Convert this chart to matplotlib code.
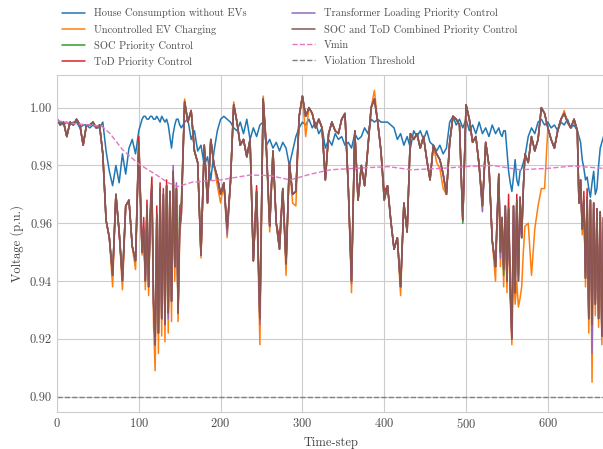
import numpy as np
import matplotlib
matplotlib.use('Agg')
import matplotlib.pyplot as plt
import seaborn as sns

# time axis: every 4 time-steps, every 2 inside the strongly oscillating windows
time_step = (list(range(0, 104, 4)) + list(range(104, 152, 2)) +
             list(range(152, 536, 4)) + list(range(536, 572, 2)) +
             list(range(572, 636, 4)) + list(range(636, 669, 2)))

house = [
    0.996, 0.995, 0.994, 0.995, 0.994, 0.995, 0.995, 0.993, 0.994, 0.994,
    0.993, 0.994, 0.993, 0.993, 0.995, 0.985, 0.978, 0.973, 0.980, 0.974,
    0.984, 0.977, 0.986, 0.989, 0.984, 0.992,
    0.996, 0.997, 0.997, 0.996, 0.996, 0.997, 0.997, 0.996, 0.996, 0.997,
    0.996, 0.995, 0.997, 0.996, 0.995, 0.996, 0.994, 0.990, 0.986, 0.991,
    0.994, 0.996, 0.996, 0.994,
    0.993, 0.995,
    0.996, 0.989, 0.992, 0.985, 0.987, 0.980, 0.983, 0.975, 0.985, 0.992,
    0.996, 0.997, 0.996, 0.995, 0.993, 0.992, 0.995, 0.991, 0.996, 0.989,
    0.993, 0.990, 0.994, 0.995, 0.987, 0.989, 0.986, 0.988, 0.985, 0.988,
    0.986, 0.980, 0.985, 0.990, 0.993, 0.995, 0.994, 0.996, 0.993, 0.995,
    0.991, 0.993, 0.986, 0.989, 0.987, 0.991, 0.989, 0.990, 0.987, 0.988,
    0.986, 0.991, 0.989, 0.990, 0.993, 0.991, 0.996, 0.995, 0.996, 0.995,
    0.995, 0.995, 0.994, 0.993, 0.989, 0.991, 0.987, 0.990, 0.986, 0.992,
    0.990, 0.992, 0.989, 0.992, 0.988, 0.987, 0.985, 0.987, 0.984, 0.986,
    0.995, 0.997, 0.994, 0.996, 0.993, 0.996, 0.992, 0.994, 0.991, 0.995,
    0.991, 0.993, 0.990, 0.994,
    0.991, 0.992, 0.993, 0.991, 0.990, 0.992, 0.992, 0.985, 0.978, 0.974,
    0.971, 0.976, 0.982, 0.975, 0.973, 0.978, 0.979, 0.981,
    0.983, 0.990, 0.993, 0.991, 0.995, 0.996, 0.994, 0.995, 0.993, 0.994,
    0.992, 0.995, 0.994, 0.996, 0.993, 0.994,
    0.992, 0.990, 0.988, 0.982, 0.979, 0.975, 0.976, 0.972, 0.969, 0.974,
    0.978, 0.970, 0.972, 0.980, 0.986, 0.988, 0.990,
]

uncontrolled = [
    0.996, 0.994, 0.995, 0.990, 0.995, 0.994, 0.996, 0.994, 0.987, 0.994,
    0.994, 0.995, 0.993, 0.994, 0.984, 0.961, 0.955, 0.938, 0.970, 0.957,
    0.937, 0.966, 0.968, 0.952, 0.944, 0.988,
    0.949, 0.957, 0.937, 0.966, 0.935, 0.962, 0.973, 0.925, 0.909, 0.963,
    0.915, 0.972, 0.921, 0.970, 0.919, 0.973, 0.922, 0.971, 0.926, 0.978,
    0.940, 0.972, 0.926, 0.955,
    0.963, 1.003,
    0.995, 0.999, 0.985, 0.981, 0.948, 0.987, 0.967, 0.989, 0.980, 0.973,
    0.967, 0.974, 0.955, 0.974, 1.002, 0.995, 0.987, 0.989, 0.983, 0.989,
    0.947, 0.971, 0.918, 1.004, 0.985, 0.957, 0.985, 0.960, 0.951, 0.972,
    0.942, 0.981, 0.967, 0.966, 0.997, 1.004, 0.990, 1.000, 0.998, 0.993,
    0.996, 0.993, 0.975, 0.991, 0.995, 0.992, 0.991, 0.996, 0.998, 0.973,
    0.936, 0.992, 0.968, 0.980, 0.973, 0.986, 1.000, 1.006, 0.995, 0.985,
    0.968, 0.973, 0.961, 0.951, 0.955, 0.935, 0.967, 0.957, 0.991, 0.989,
    0.991, 0.986, 0.990, 0.982, 0.975, 0.987, 0.981, 0.979, 0.972, 0.970,
    0.988, 0.997, 0.996, 0.994, 0.961, 1.001, 0.996, 0.988, 0.990, 0.980,
    0.966, 0.988, 0.980, 0.954,
    0.940, 0.960, 0.975, 0.945, 0.960, 0.938, 0.963, 0.936, 0.962, 0.934,
    0.918, 0.945, 0.932, 0.940, 0.931, 0.934, 0.938, 0.950,
    0.959, 0.960, 0.942, 0.958, 0.966, 0.972, 0.972, 0.993, 0.989, 0.986,
    0.992, 0.996, 0.999, 0.995, 0.993, 0.996,
    0.992, 0.967, 0.975, 0.956, 0.968, 0.938, 0.969, 0.922, 0.968, 0.905,
    0.967, 0.928, 0.965, 0.924, 0.964, 0.918, 0.962,
]

soc_priority = [
    0.996, 0.994, 0.995, 0.990, 0.995, 0.994, 0.996, 0.994, 0.987, 0.994,
    0.994, 0.995, 0.993, 0.994, 0.984, 0.961, 0.955, 0.942, 0.970, 0.957,
    0.942, 0.966, 0.968, 0.952, 0.947, 0.988,
    0.950, 0.958, 0.940, 0.966, 0.938, 0.962, 0.973, 0.933, 0.918, 0.963,
    0.922, 0.972, 0.927, 0.970, 0.925, 0.973, 0.929, 0.971, 0.933, 0.978,
    0.945, 0.972, 0.929, 0.966,
    0.967, 1.002,
    0.995, 0.999, 0.985, 0.981, 0.949, 0.987, 0.967, 0.989, 0.980, 0.976,
    0.970, 0.974, 0.958, 0.974, 1.001, 0.995, 0.987, 0.989, 0.983, 0.989,
    0.947, 0.971, 0.927, 1.003, 0.985, 0.959, 0.985, 0.960, 0.951, 0.972,
    0.946, 0.981, 0.970, 0.971, 0.997, 1.004, 0.997, 1.000, 0.998, 0.993,
    0.996, 0.993, 0.975, 0.991, 0.995, 0.992, 0.991, 0.996, 0.998, 0.973,
    0.940, 0.992, 0.968, 0.980, 0.973, 0.986, 1.000, 1.003, 0.995, 0.985,
    0.968, 0.973, 0.961, 0.951, 0.955, 0.938, 0.967, 0.957, 0.991, 0.989,
    0.991, 0.986, 0.990, 0.982, 0.975, 0.987, 0.984, 0.982, 0.977, 0.970,
    0.988, 0.997, 0.996, 0.994, 0.960, 1.001, 0.996, 0.988, 0.990, 0.980,
    0.966, 0.988, 0.980, 0.954,
    0.945, 0.962, 0.977, 0.950, 0.962, 0.942, 0.966, 0.940, 0.965, 0.938,
    0.922, 0.966, 0.936, 0.968, 0.940, 0.969, 0.955, 0.972,
    0.984, 0.981, 0.990, 0.985, 0.989, 1.000, 0.998, 0.993, 0.989, 0.986,
    0.992, 0.996, 0.998, 0.995, 0.993, 0.996,
    0.992, 0.967, 0.975, 0.958, 0.968, 0.941, 0.969, 0.927, 0.968, 0.925,
    0.967, 0.932, 0.965, 0.927, 0.964, 0.921, 0.962,
]

tod_priority = [
    0.996, 0.994, 0.995, 0.990, 0.995, 0.994, 0.996, 0.994, 0.987, 0.994,
    0.994, 0.995, 0.993, 0.994, 0.984, 0.961, 0.955, 0.942, 0.970, 0.957,
    0.940, 0.966, 0.968, 0.952, 0.947, 0.990,
    0.950, 0.962, 0.940, 0.968, 0.938, 0.965, 0.976, 0.933, 0.918, 0.966,
    0.922, 0.974, 0.927, 0.972, 0.925, 0.975, 0.929, 0.971, 0.933, 0.978,
    0.945, 0.972, 0.929, 0.962,
    0.966, 1.002,
    0.995, 0.999, 0.985, 0.981, 0.949, 0.987, 0.967, 0.989, 0.980, 0.976,
    0.970, 0.974, 0.958, 0.974, 1.001, 0.995, 0.987, 0.989, 0.983, 0.989,
    0.947, 0.973, 0.927, 1.003, 0.987, 0.959, 0.985, 0.960, 0.955, 0.972,
    0.946, 0.981, 0.970, 0.971, 0.997, 1.004, 0.997, 1.000, 0.998, 0.993,
    0.996, 0.993, 0.975, 0.991, 0.995, 0.992, 0.991, 0.996, 0.998, 0.973,
    0.940, 0.992, 0.968, 0.980, 0.973, 0.986, 1.000, 1.003, 0.995, 0.985,
    0.971, 0.973, 0.961, 0.951, 0.955, 0.938, 0.967, 0.957, 0.991, 0.989,
    0.991, 0.986, 0.990, 0.982, 0.975, 0.987, 0.984, 0.982, 0.977, 0.970,
    0.988, 0.997, 0.996, 0.994, 0.961, 1.001, 0.996, 0.988, 0.990, 0.980,
    0.966, 0.988, 0.980, 0.954,
    0.945, 0.962, 0.977, 0.950, 0.962, 0.944, 0.966, 0.940, 0.970, 0.938,
    0.920, 0.966, 0.936, 0.970, 0.942, 0.969, 0.955, 0.972,
    0.984, 0.981, 0.990, 0.985, 0.989, 1.000, 0.998, 0.993, 0.989, 0.986,
    0.992, 0.996, 0.998, 0.995, 0.993, 0.996,
    0.992, 0.967, 0.975, 0.958, 0.971, 0.941, 0.972, 0.927, 0.968, 0.925,
    0.967, 0.932, 0.965, 0.927, 0.964, 0.921, 0.962,
]

trafo_priority = [
    0.996, 0.994, 0.995, 0.990, 0.995, 0.994, 0.996, 0.994, 0.987, 0.994,
    0.994, 0.995, 0.993, 0.994, 0.984, 0.961, 0.955, 0.942, 0.970, 0.957,
    0.940, 0.966, 0.968, 0.952, 0.947, 0.988,
    0.950, 0.958, 0.940, 0.966, 0.938, 0.962, 0.973, 0.931, 0.918, 0.963,
    0.922, 0.972, 0.927, 0.970, 0.925, 0.973, 0.927, 0.971, 0.933, 0.980,
    0.945, 0.974, 0.929, 0.958,
    0.963, 1.002,
    0.995, 0.999, 0.985, 0.981, 0.949, 0.987, 0.967, 0.989, 0.980, 0.976,
    0.970, 0.974, 0.956, 0.974, 1.001, 0.995, 0.987, 0.989, 0.983, 0.989,
    0.947, 0.971, 0.925, 1.003, 0.985, 0.959, 0.985, 0.960, 0.951, 0.972,
    0.946, 0.981, 0.970, 0.971, 0.997, 1.004, 0.997, 1.000, 0.998, 0.993,
    0.996, 0.993, 0.975, 0.991, 0.995, 0.992, 0.991, 0.996, 0.998, 0.973,
    0.939, 0.992, 0.968, 0.980, 0.973, 0.986, 1.000, 1.003, 0.995, 0.985,
    0.968, 0.973, 0.961, 0.951, 0.955, 0.938, 0.967, 0.957, 0.991, 0.989,
    0.991, 0.986, 0.990, 0.982, 0.975, 0.987, 0.984, 0.982, 0.977, 0.970,
    0.988, 0.997, 0.996, 0.994, 0.961, 1.001, 0.996, 0.988, 0.990, 0.980,
    0.964, 0.988, 0.980, 0.954,
    0.945, 0.962, 0.977, 0.948, 0.962, 0.944, 0.966, 0.940, 0.965, 0.936,
    0.920, 0.966, 0.936, 0.968, 0.940, 0.969, 0.955, 0.972,
    0.984, 0.981, 0.990, 0.985, 0.989, 1.000, 0.998, 0.993, 0.989, 0.986,
    0.992, 0.996, 0.998, 0.995, 0.993, 0.996,
    0.992, 0.967, 0.975, 0.958, 0.968, 0.941, 0.969, 0.927, 0.968, 0.915,
    0.967, 0.932, 0.965, 0.927, 0.964, 0.921, 0.962,
]

soc_tod = [
    0.996, 0.994, 0.995, 0.990, 0.995, 0.994, 0.996, 0.994, 0.987, 0.994,
    0.994, 0.995, 0.993, 0.994, 0.984, 0.961, 0.955, 0.942, 0.970, 0.957,
    0.940, 0.966, 0.968, 0.952, 0.947, 0.988,
    0.950, 0.958, 0.940, 0.966, 0.938, 0.962, 0.973, 0.933, 0.918, 0.963,
    0.922, 0.972, 0.927, 0.970, 0.925, 0.973, 0.929, 0.971, 0.933, 0.978,
    0.945, 0.972, 0.929, 0.958,
    0.963, 1.002,
    0.995, 0.999, 0.985, 0.981, 0.949, 0.987, 0.967, 0.989, 0.980, 0.976,
    0.970, 0.974, 0.958, 0.974, 1.001, 0.995, 0.987, 0.989, 0.983, 0.989,
    0.947, 0.971, 0.927, 1.003, 0.985, 0.959, 0.985, 0.960, 0.951, 0.972,
    0.946, 0.981, 0.970, 0.971, 0.997, 1.004, 0.997, 1.000, 0.998, 0.993,
    0.996, 0.993, 0.975, 0.991, 0.995, 0.992, 0.991, 0.996, 0.998, 0.973,
    0.940, 0.992, 0.968, 0.980, 0.973, 0.986, 1.000, 1.003, 0.995, 0.985,
    0.968, 0.973, 0.961, 0.951, 0.955, 0.938, 0.967, 0.957, 0.991, 0.989,
    0.991, 0.986, 0.990, 0.982, 0.975, 0.987, 0.984, 0.982, 0.977, 0.970,
    0.988, 0.997, 0.996, 0.994, 0.961, 1.001, 0.996, 0.988, 0.990, 0.980,
    0.966, 0.988, 0.980, 0.954,
    0.945, 0.962, 0.977, 0.950, 0.962, 0.944, 0.966, 0.940, 0.965, 0.938,
    0.920, 0.966, 0.936, 0.968, 0.940, 0.969, 0.955, 0.972,
    0.984, 0.981, 0.990, 0.985, 0.989, 1.000, 0.998, 0.993, 0.989, 0.986,
    0.992, 0.996, 0.998, 0.995, 0.993, 0.996,
    0.992, 0.967, 0.975, 0.958, 0.968, 0.941, 0.969, 0.927, 0.968, 0.925,
    0.967, 0.932, 0.965, 0.927, 0.964, 0.921, 0.962,
]

# Vmin curve (smooth), read at a coarser set of time-steps
vmin_step = [0, 20, 40, 55, 65, 80, 100, 120, 136, 148, 165, 200, 236, 260,
             285, 310, 334, 364, 405, 433, 470, 499, 533, 566, 600, 630, 668]
vmin = [0.9955, 0.9945, 0.994, 0.9935, 0.991, 0.9855, 0.9805, 0.977, 0.974,
        0.9727, 0.9742, 0.975, 0.9767, 0.9765, 0.975, 0.977, 0.9785, 0.979,
        0.9796, 0.9785, 0.979, 0.9796, 0.980, 0.9785, 0.979, 0.9798, 0.979]

violation_threshold = 0.90

labels = ['House Consumption without EVs', 'Uncontrolled EV Charging',
          'SOC Priority Control', 'ToD Priority Control',
          'Transformer Loading Priority Control',
          'SOC and ToD Combined Priority Control', 'Vmin', 'Violation Threshold']


sns.set_style('whitegrid')
plt.rcParams['font.family'] = 'serif'
plt.rcParams['font.serif'] = ['cmr10']
plt.rcParams['mathtext.fontset'] = 'cm'
plt.rcParams['axes.formatter.use_mathtext'] = True

fig = plt.figure(figsize=(6.03, 4.49), dpi=100)
ax = fig.add_axes([0.0945, 0.0824, 0.9104, 0.7506])

lw = 1.1
lines = []
lines += ax.plot(time_step, house, color='#1f77b4', lw=lw, label=labels[0])
lines += ax.plot(time_step, uncontrolled, color='#ff7f0e', lw=lw, label=labels[1])
lines += ax.plot(time_step, soc_priority, color='#2ca02c', lw=lw, label=labels[2])
lines += ax.plot(time_step, tod_priority, color='#d62728', lw=lw, label=labels[3])
lines += ax.plot(time_step, trafo_priority, color='#9467bd', lw=lw, label=labels[4])
lines += ax.plot(time_step, soc_tod, color='#8c564b', lw=lw, label=labels[5])
lines += ax.plot(vmin_step, vmin, color='#e377c2', lw=1.0, ls='--', label=labels[6])
lines.append(ax.axhline(violation_threshold, color='#7f7f7f', lw=1.0, ls='--',
                        label=labels[7]))

ax.set_xlim(0, 671)
ax.set_ylim(0.8947, 1.0113)
ax.set_yticks([0.90, 0.92, 0.94, 0.96, 0.98, 1.00])
ax.set_yticklabels(['0.90', '0.92', '0.94', '0.96', '0.98', '1.00'])
ax.set_xticks([0, 100, 200, 300, 400, 500, 600])
ax.tick_params(labelsize=9, colors='.3', length=0)
ax.set_xlabel('Time-step', fontsize=9, color='.25')
ax.set_ylabel('Voltage (p.u.)', fontsize=9, color='.25')

# two-column legend above the axes, built as two legends for exact placement
leg_kw = dict(loc='upper left', frameon=False, fontsize=7.5, handlelength=2.2,
              handletextpad=0.85, labelspacing=0.58, borderpad=0,
              borderaxespad=0, labelcolor='.3')
fig.legend(handles=lines[:4], bbox_to_anchor=(62 / 603, 1 - 8.5 / 449), **leg_kw)
fig.legend(handles=lines[4:], bbox_to_anchor=(292 / 603, 1 - 8.5 / 449), **leg_kw)

fig.savefig('out.png', dpi=100)
